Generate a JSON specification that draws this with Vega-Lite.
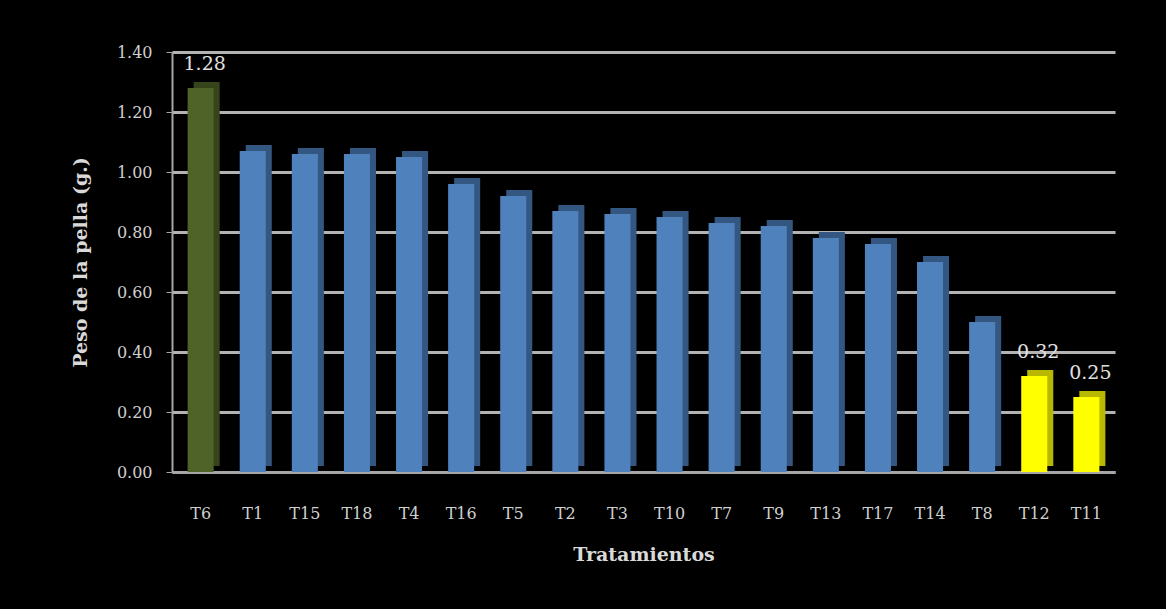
{
  "$schema": "https://vega.github.io/schema/vega-lite/v6.json",
  "width": 943,
  "height": 420,
  "autosize": "none",
  "padding": {"left": 172, "top": 52, "right": 51, "bottom": 137},
  "background": "#000000",
  "config": {
    "view": {"stroke": null},
    "font": "DejaVu Serif"
  },
  "data": {
    "values": [
      {"t": "T6", "v": 1.28, "g": "max", "lab": "1.28"},
      {"t": "T1", "v": 1.07, "g": "mid", "lab": ""},
      {"t": "T15", "v": 1.06, "g": "mid", "lab": ""},
      {"t": "T18", "v": 1.06, "g": "mid", "lab": ""},
      {"t": "T4", "v": 1.05, "g": "mid", "lab": ""},
      {"t": "T16", "v": 0.96, "g": "mid", "lab": ""},
      {"t": "T5", "v": 0.92, "g": "mid", "lab": ""},
      {"t": "T2", "v": 0.87, "g": "mid", "lab": ""},
      {"t": "T3", "v": 0.86, "g": "mid", "lab": ""},
      {"t": "T10", "v": 0.85, "g": "mid", "lab": ""},
      {"t": "T7", "v": 0.83, "g": "mid", "lab": ""},
      {"t": "T9", "v": 0.82, "g": "mid", "lab": ""},
      {"t": "T13", "v": 0.78, "g": "mid", "lab": ""},
      {"t": "T17", "v": 0.76, "g": "mid", "lab": ""},
      {"t": "T14", "v": 0.70, "g": "mid", "lab": ""},
      {"t": "T8", "v": 0.50, "g": "mid", "lab": ""},
      {"t": "T12", "v": 0.32, "g": "min", "lab": "0.32"},
      {"t": "T11", "v": 0.25, "g": "min", "lab": "0.25"}
    ]
  },
  "encoding": {
    "x": {
      "field": "t", "type": "nominal", "sort": null,
      "scale": {"paddingInner": 0.5, "paddingOuter": 0.3},
      "axis": {
        "title": "Tratamientos",
        "titleFont": "DejaVu Serif", "titleFontSize": 19, "titleFontWeight": "bold",
        "titleColor": "#d9d9d9", "titlePadding": 24,
        "labelFont": "DejaVu Serif", "labelFontSize": 16, "labelColor": "#d0d0d0",
        "labelAngle": 0, "labelPadding": 33,
        "domainColor": "#a6a6a6", "domainWidth": 3, "ticks": false
      }
    },
    "y": {
      "field": "v", "type": "quantitative",
      "scale": {"domain": [0, 1.4], "nice": false},
      "axis": {
        "title": "Peso de la pella (g.)",
        "titleFont": "DejaVu Serif", "titleFontSize": 19, "titleFontWeight": "bold",
        "titleColor": "#d9d9d9", "titlePadding": 26,
        "values": [0, 0.2, 0.4, 0.6, 0.8, 1.0, 1.2, 1.4],
        "format": ".2f",
        "labelFont": "DejaVu Serif", "labelFontSize": 16, "labelColor": "#d0d0d0",
        "labelPadding": 14,
        "domainColor": "#a6a6a6", "domainWidth": 2,
        "tickColor": "#a6a6a6", "tickSize": 6,
        "grid": true, "gridColor": "#b3b3b3", "gridWidth": 3
      }
    }
  },
  "resolve": {"scale": {"color": "independent"}},
  "layer": [
    {
      "mark": {"type": "bar", "xOffset": 6, "yOffset": -6, "y2Offset": -6},
      "encoding": {
        "color": {
          "field": "g", "type": "nominal", "legend": null,
          "scale": {"domain": ["max", "mid", "min"], "range": ["#36441b", "#345781", "#b8b800"]}
        }
      }
    },
    {
      "mark": {"type": "bar"},
      "encoding": {
        "color": {
          "field": "g", "type": "nominal", "legend": null,
          "scale": {"domain": ["max", "mid", "min"], "range": ["#4f6228", "#4f81bd", "#ffff00"]}
        }
      }
    },
    {
      "transform": [{"filter": "datum.lab != ''"}],
      "mark": {"type": "text", "dy": -24, "dx": 4, "font": "DejaVu Serif", "fontSize": 19, "color": "#e0e0e0"},
      "encoding": {"text": {"field": "lab"}}
    }
  ]
}
